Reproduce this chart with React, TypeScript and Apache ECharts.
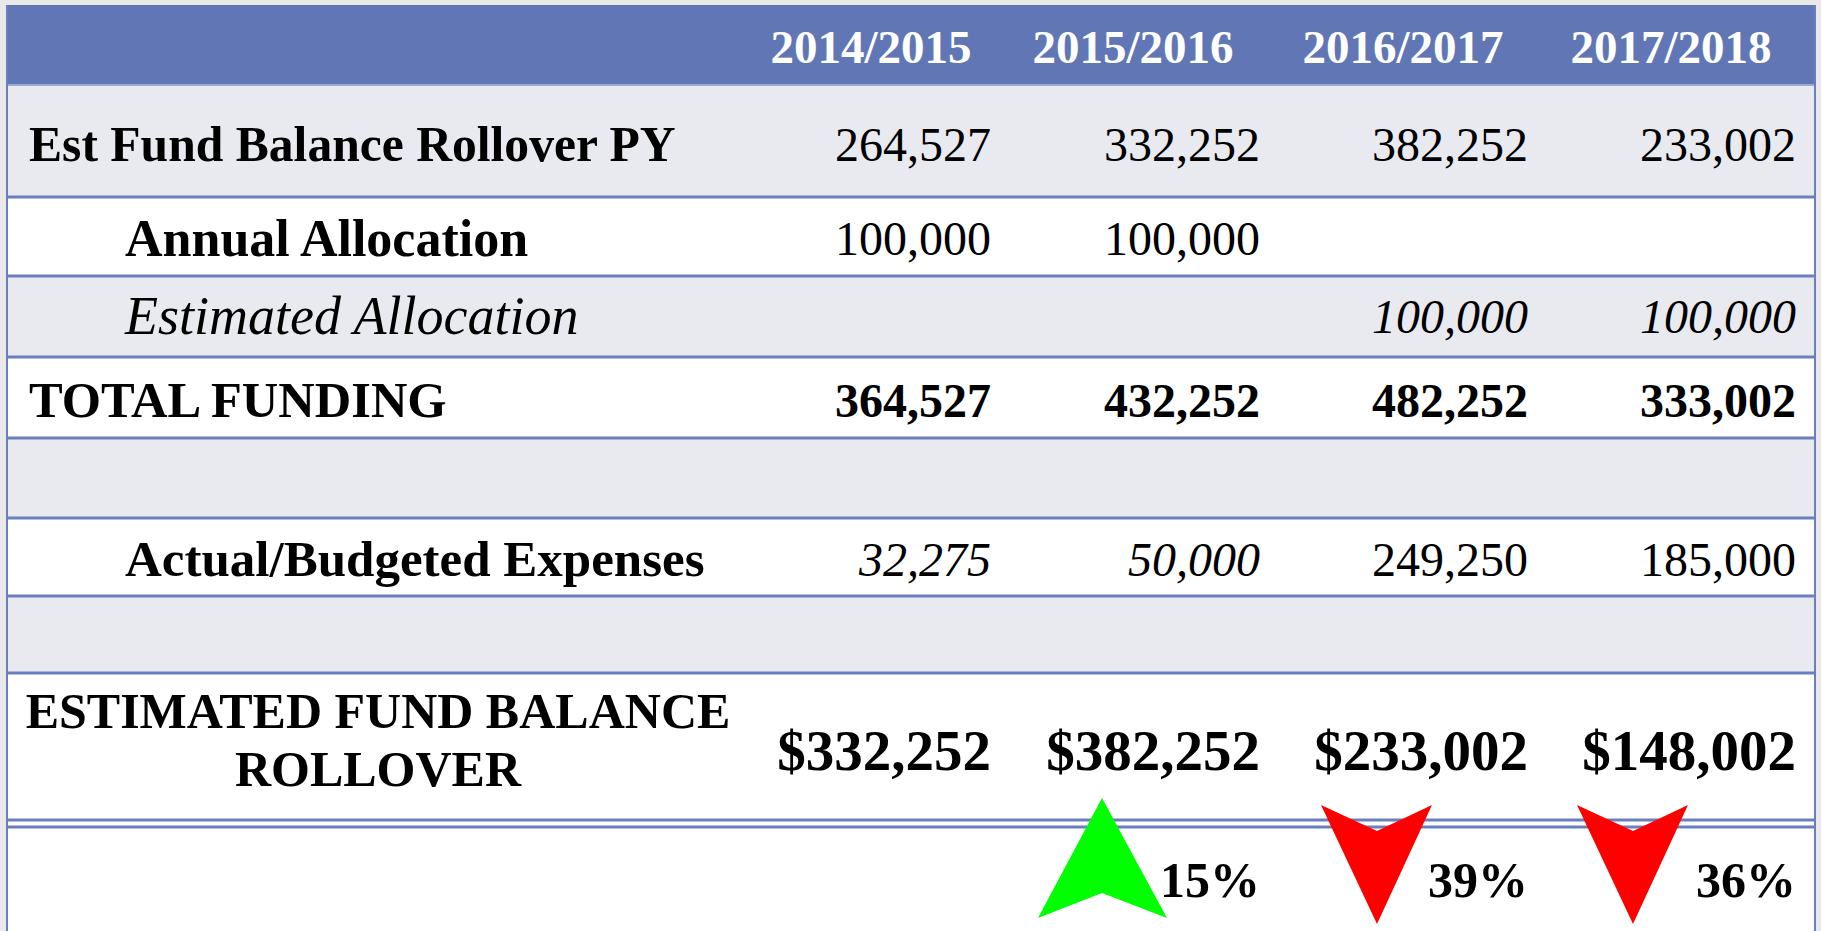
import React, { useEffect, useRef } from "react";
import * as echarts from "echarts";

// ---------- data ----------
const years = ["2014/2015", "2015/2016", "2016/2017", "2017/2018"];
const rowLabels = [
  "Est Fund Balance Rollover PY",
  "Annual Allocation",
  "Estimated Allocation",
  "TOTAL FUNDING",
  "",
  "Actual/Budgeted Expenses",
  "",
];
const rolloverPY = [264527, 332252, 382252, 233002];
const annualAllocation = [100000, 100000, null, null];
const estimatedAllocation = [null, null, 100000, 100000];
const totalFunding = [364527, 432252, 482252, 333002];
const expenses = [32275, 50000, 249250, 185000];
const expensesItalic = [true, true, false, false];
const finalLabel = "ESTIMATED FUND BALANCE\nROLLOVER";
const fundBalance = [332252, 382252, 233002, 148002];
const changePct = [null, 15, -39, -36];

// ---------- layout ----------
const W = 1821;
const H = 931;
const FONT = '"Liberation Serif", "Times New Roman", serif';
const HEADER_BG = "#6177b5";
const GRAY = "#e9eaf0";
const LINE = "#6a7ec0";
const TL = 7;
const TR = 1815;
const colRight = [991, 1260, 1528, 1796];
const colCenter = [871, 1133, 1403, 1671];
const arrowX = [0, 1102, 1377, 1633];
// row bands [top, bottom, labelIndent, bg]
const bands = [
  [85, 197, 29, GRAY],
  [197, 276, 125, "#ffffff"],
  [276, 357, 125, GRAY],
  [357, 438, 29, "#ffffff"],
  [438, 518, 29, GRAY],
  [518, 596, 125, "#ffffff"],
  [596, 673, 29, GRAY],
];
const rowTextY = [144, 238, 316, 400, 478, 559, 635];
const labelSize = [49.6, 52, 54, 50.5, 50, 51, 50];

const fmt = (v: number | null) => (v == null ? "" : v.toLocaleString("en-US"));

function buildElements() {
  const els: any[] = [];
  els.push({ type: "rect", shape: { x: 0, y: 0, width: W, height: H }, style: { fill: "#e9e9e9" } });
  els.push({ type: "rect", shape: { x: TL, y: 5, width: TR - TL, height: H - 5 }, style: { fill: "#ffffff" } });
  // header
  els.push({ type: "rect", shape: { x: TL, y: 5, width: TR - TL, height: 80 }, style: { fill: HEADER_BG } });
  years.forEach((y, i) => {
    els.push({
      type: "text",
      x: colCenter[i],
      y: 47,
      style: { text: y, fill: "#ffffff", fontFamily: FONT, fontWeight: "bold", fontSize: 47, align: "center", verticalAlign: "middle" },
    });
  });
  // bands
  bands.forEach((b) => {
    els.push({ type: "rect", shape: { x: TL, y: b[0] as number, width: TR - TL, height: (b[1] as number) - (b[0] as number) }, style: { fill: b[3] as string } });
  });
  // lines
  const hl = [197, 276, 357, 438, 518, 596, 673, 820, 827];
  hl.forEach((y) => {
    els.push({ type: "line", shape: { x1: TL, y1: y, x2: TR, y2: y }, style: { stroke: LINE, lineWidth: 3 } });
  });
  els.push({ type: "line", shape: { x1: TL, y1: 85, x2: TR, y2: 85 }, style: { stroke: "#9aa8d6", lineWidth: 2 } });
  els.push({ type: "line", shape: { x1: TL, y1: 5, x2: TL, y2: H }, style: { stroke: LINE, lineWidth: 2 } });
  els.push({ type: "line", shape: { x1: TR, y1: 5, x2: TR, y2: H }, style: { stroke: LINE, lineWidth: 2 } });

  // row labels
  rowLabels.forEach((lab, r) => {
    if (!lab) return;
    els.push({
      type: "text",
      x: bands[r][2] as number,
      y: rowTextY[r],
      style: {
        text: lab,
        fill: "#000",
        fontFamily: FONT,
        fontWeight: r === 2 ? "normal" : "bold",
        fontStyle: r === 2 ? "italic" : "normal",
        fontSize: labelSize[r],
        align: "left",
        verticalAlign: "middle",
      },
    });
  });

  const addRow = (vals: (number | null)[], r: number, bold: boolean, italic: (i: number) => boolean) => {
    vals.forEach((v, i) => {
      if (v == null) return;
      els.push({
        type: "text",
        x: colRight[i],
        y: rowTextY[r],
        style: {
          text: fmt(v),
          fill: "#000",
          fontFamily: FONT,
          fontWeight: bold ? "bold" : "normal",
          fontStyle: italic(i) ? "italic" : "normal",
          fontSize: 48,
          align: "right",
          verticalAlign: "middle",
        },
      });
    });
  };
  addRow(rolloverPY, 0, false, () => false);
  addRow(annualAllocation, 1, false, () => false);
  addRow(estimatedAllocation, 2, false, () => true);
  addRow(totalFunding, 3, true, () => false);
  addRow(expenses, 5, false, (i) => expensesItalic[i]);

  // final row
  els.push({
    type: "text",
    x: 378,
    y: 740,
    style: {
      text: finalLabel,
      fill: "#000",
      fontFamily: FONT,
      fontWeight: "bold",
      fontSize: 50,
      lineHeight: 58,
      align: "center",
      verticalAlign: "middle",
    },
  });
  fundBalance.forEach((v, i) => {
    els.push({
      type: "text",
      x: colRight[i],
      y: 750,
      style: { text: "$" + fmt(v), fill: "#000", fontFamily: FONT, fontWeight: "bold", fontSize: 57, align: "right", verticalAlign: "middle" },
    });
  });

  // change arrows
  changePct.forEach((p, i) => {
    if (p == null) return;
    const cx = arrowX[i];
    if (p > 0) {
      els.push({
        type: "polygon",
        shape: { points: [[cx, 798], [cx + 65, 918], [cx, 893], [cx - 64, 918]] },
        style: { fill: "#00ff00" },
      });
    } else {
      els.push({
        type: "polygon",
        shape: { points: [[cx - 56, 805], [cx, 831], [cx + 55, 805], [cx, 924]] },
        style: { fill: "#ff0000" },
      });
    }
    els.push({
      type: "text",
      x: colRight[i],
      y: 880,
      style: { text: Math.abs(p) + "%", fill: "#000", fontFamily: FONT, fontWeight: "bold", fontSize: 50, align: "right", verticalAlign: "middle" },
    });
  });
  return els;
}

export default function App() {
  const ref = useRef<HTMLDivElement>(null);
  useEffect(() => {
    const chart = echarts.init(ref.current!, null, { renderer: "svg", width: W, height: H });
    chart.setOption({ animation: false, graphic: { elements: buildElements() } });
    return () => chart.dispose();
  }, []);
  return <div ref={ref} style={{ position: "absolute", left: 0, top: 0, width: W, height: H }} />;
}
